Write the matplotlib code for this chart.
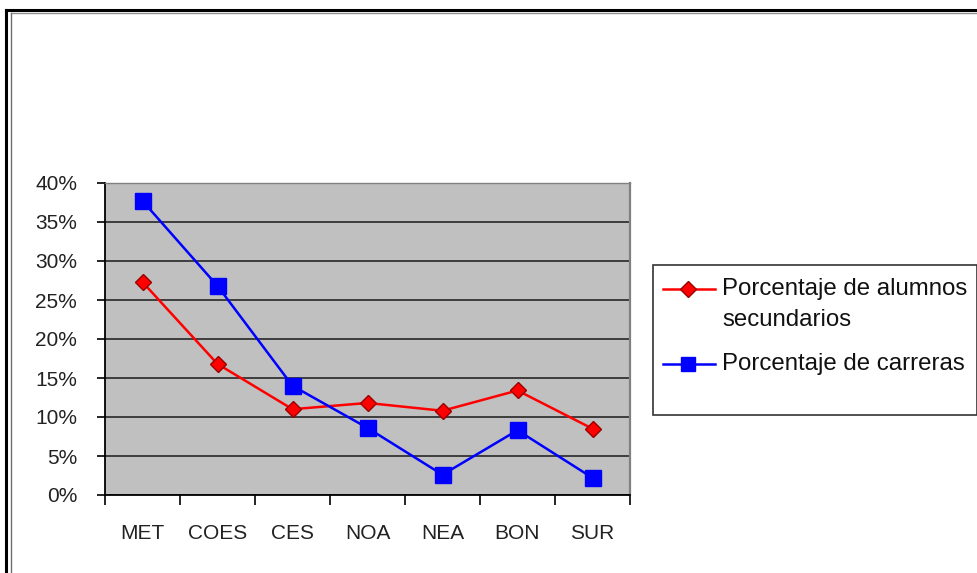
import matplotlib
matplotlib.use("Agg")
import matplotlib.pyplot as plt
from matplotlib.lines import Line2D
from matplotlib.patches import Rectangle
from matplotlib.ticker import PercentFormatter

plt.rcParams["font.family"] = ["Liberation Sans", "DejaVu Sans"]

regiones = ["MET", "COES", "CES", "NOA", "NEA", "BON", "SUR"]
alumnos = [27.3, 16.8, 11.0, 11.8, 10.8, 13.4, 8.5]
carreras = [37.7, 26.8, 14.0, 8.6, 2.6, 8.3, 2.2]
lbl_alumnos = "Porcentaje de alumnos\nsecundarios"
lbl_carreras = "Porcentaje de carreras"
yticks = [0, 5, 10, 15, 20, 25, 30, 35, 40]

W, H = 978, 573
fig = plt.figure(figsize=(W / 100, H / 100), dpi=100)
fig.patch.set_facecolor("white")

ax = fig.add_axes([105 / W, (H - 495) / H, 525 / W, 312 / H])
ax.set_facecolor("#c0c0c0")

x = list(range(len(regiones)))
ax.plot(x, alumnos, color="#ff0000", lw=1.8, marker="D", ms=8.5,
        mfc="#ff0000", mec="#990000", mew=1.0, zorder=3)
ax.plot(x, carreras, color="#0000ff", lw=1.8, marker="s", ms=11,
        mfc="#0000ff", mec="#0000ff", zorder=3)

ax.set_xlim(-0.5, len(regiones) - 0.5)
ax.set_ylim(0, 40)
ax.set_yticks(yticks)
ax.yaxis.set_major_formatter(PercentFormatter(decimals=0))
ax.grid(axis="y", color="#1a1a1a", lw=1.1)
ax.set_axisbelow(True)

# category labels centred, tick marks between categories
ax.set_xticks(x)
ax.set_xticklabels(regiones)
ax.set_xticks([i - 0.5 for i in range(len(regiones) + 1)], minor=True)
ax.tick_params(axis="x", which="major", length=0, pad=21, labelsize=15,
               labelcolor="#222222")
ax.tick_params(axis="x", which="minor", length=7, width=1.2, direction="out",
               color="black")
ax.tick_params(axis="y", length=6, width=1.2, direction="out", pad=14,
               labelsize=15, labelcolor="#222222")

ax.spines["left"].set_color("black")
ax.spines["bottom"].set_color("black")
ax.spines["left"].set_linewidth(1.3)
ax.spines["bottom"].set_linewidth(1.3)
ax.spines["right"].set_color("#808080")
ax.spines["right"].set_linewidth(1.6)
ax.spines["top"].set_color("#808080")
ax.spines["top"].set_linewidth(1.0)

# legend box drawn by hand (handle sits beside first text line)
fig.add_artist(Rectangle((653 / W, 1 - 415 / H), 324 / W, 150 / H,
                         transform=fig.transFigure, facecolor="white",
                         edgecolor="#333333", lw=1.2))
fig.add_artist(Line2D([663 / W, 715 / W], [1 - 289 / H] * 2, color="#ff0000",
                      lw=1.8, transform=fig.transFigure))
fig.add_artist(Line2D([688 / W], [1 - 289 / H], marker="D", ms=8.5,
                      mfc="#ff0000", mec="#990000", transform=fig.transFigure))
fig.add_artist(Line2D([663 / W, 715 / W], [1 - 364 / H] * 2, color="#0000ff",
                      lw=1.8, transform=fig.transFigure))
fig.add_artist(Line2D([688 / W], [1 - 364 / H], marker="s", ms=10,
                      mfc="#0000ff", mec="#0000ff", transform=fig.transFigure))
fig.text(722 / W, 1 - 289 / H, lbl_alumnos.split("\n")[0], fontsize=17.3,
         va="center", ha="left", color="#111111")
fig.text(722 / W, 1 - 320 / H, lbl_alumnos.split("\n")[1], fontsize=17.3,
         va="center", ha="left", color="#111111")
fig.text(722 / W, 1 - 364 / H, lbl_carreras, fontsize=17.3,
         va="center", ha="left", color="#111111")

# outer frame of the picture
fig.add_artist(Line2D([6 / W, 1], [1 - 10 / H] * 2, color="black", lw=2.2,
                      transform=fig.transFigure))
fig.add_artist(Line2D([6 / W] * 2, [0, 1 - 10 / H], color="black", lw=2.2,
                      transform=fig.transFigure))
fig.add_artist(Line2D([10.5 / W, 1], [1 - 13 / H] * 2, color="#909090", lw=1,
                      transform=fig.transFigure))
fig.add_artist(Line2D([10.5 / W] * 2, [0, 1 - 13 / H], color="#707070", lw=1,
                      transform=fig.transFigure))

fig.savefig("out.png", dpi=100)
